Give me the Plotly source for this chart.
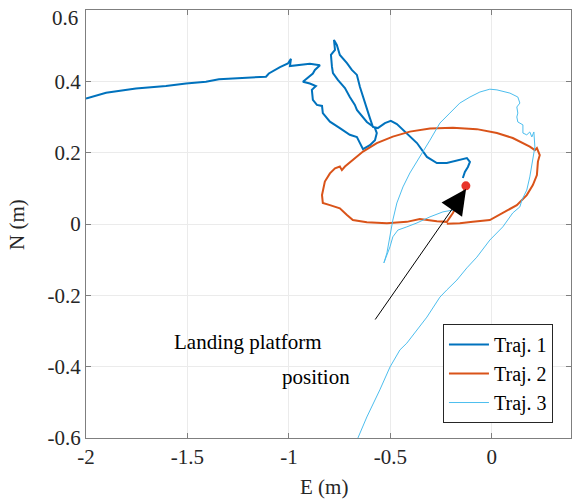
import plotly.graph_objects as go

# Trajectory 1 (E, N in metres)
traj1_e = [-2.000, -1.901, -1.754, -1.606, -1.507, -1.409, -1.345, -1.261, -1.113, -1.099,
           -1.044, -1.005, -0.990, -0.995, -0.946, -0.897, -0.847, -0.872, -0.882, -0.931,
           -0.897, -0.867, -0.887, -0.882, -0.862, -0.837, -0.833, -0.798, -0.749, -0.700,
           -0.665, -0.650, -0.635, -0.601, -0.576, -0.567, -0.576, -0.616, -0.665, -0.675,
           -0.700, -0.724, -0.759, -0.783, -0.788, -0.793, -0.773, -0.778, -0.764, -0.749,
           -0.714, -0.690, -0.665, -0.650, -0.635, -0.616, -0.601, -0.586, -0.562, -0.527,
           -0.498, -0.468, -0.419, -0.369, -0.320, -0.271, -0.222, -0.172, -0.123, -0.108,
           -0.118, -0.133, -0.143]
traj1_n = [0.352, 0.368, 0.380, 0.387, 0.394, 0.399, 0.406, 0.408, 0.413, 0.422,
           0.440, 0.450, 0.463, 0.443, 0.446, 0.449, 0.445, 0.432, 0.422, 0.399,
           0.394, 0.387, 0.376, 0.348, 0.334, 0.331, 0.311, 0.287, 0.269, 0.250,
           0.244, 0.227, 0.210, 0.221, 0.235, 0.255, 0.269, 0.286, 0.320, 0.334,
           0.356, 0.381, 0.404, 0.423, 0.441, 0.474, 0.488, 0.516, 0.502, 0.474,
           0.451, 0.432, 0.418, 0.384, 0.356, 0.325, 0.297, 0.272, 0.269, 0.283,
           0.289, 0.280, 0.255, 0.227, 0.188, 0.171, 0.171, 0.179, 0.185, 0.174,
           0.160, 0.146, 0.129]

# Trajectory 2
traj2_e = [-0.128, -0.158, -0.192, -0.222, -0.271, -0.355, -0.419, -0.517, -0.616, -0.685,
           -0.714, -0.749, -0.798, -0.833, -0.837, -0.823, -0.798, -0.773, -0.749, -0.739,
           -0.724, -0.685, -0.635, -0.567, -0.488, -0.404, -0.305, -0.192, -0.074, 0.025,
           0.103, 0.187, 0.212, 0.222, 0.236, 0.227, 0.222, 0.202, 0.172, 0.123,
           0.054, -0.010, -0.094, -0.158, -0.222]
traj2_n = [0.107, 0.067, 0.031, 0.006, 0.008, 0.014, 0.006, 0.002, 0.005, 0.011,
           0.025, 0.044, 0.053, 0.059, 0.081, 0.119, 0.142, 0.156, 0.161, 0.151,
           0.161, 0.179, 0.203, 0.227, 0.245, 0.259, 0.268, 0.270, 0.266, 0.255,
           0.241, 0.217, 0.207, 0.213, 0.193, 0.175, 0.137, 0.109, 0.081, 0.053,
           0.031, 0.011, 0.006, 0.002, 0.001]

# Trajectory 3
traj3_e = [-0.660, -0.616, -0.552, -0.502, -0.453, -0.419, -0.320, -0.256, -0.222, -0.172,
           -0.123, -0.074, -0.010, 0.054, 0.103, 0.138, 0.148, 0.172, 0.187, 0.202,
           0.212, 0.207, 0.197, 0.187, 0.172, 0.153, 0.153, 0.128, 0.123, 0.128,
           0.123, 0.138, 0.128, 0.089, 0.025, -0.010, -0.059, -0.108, -0.158, -0.207,
           -0.256, -0.305, -0.355, -0.404, -0.438, -0.468, -0.488, -0.502, -0.517, -0.532,
           -0.502, -0.488, -0.463, -0.419, -0.369, -0.305, -0.241, -0.192, -0.167, -0.148,
           -0.133]
traj3_n = [-0.600, -0.541, -0.465, -0.401, -0.353, -0.334, -0.261, -0.205, -0.185, -0.157,
           -0.123, -0.093, -0.045, -0.008, 0.031, 0.048, 0.067, 0.095, 0.132, 0.179,
           0.216, 0.258, 0.244, 0.258, 0.250, 0.255, 0.278, 0.286, 0.300, 0.311,
           0.328, 0.339, 0.356, 0.367, 0.376, 0.378, 0.370, 0.356, 0.339, 0.311,
           0.283, 0.235, 0.188, 0.143, 0.104, 0.059, 0.011, -0.036, -0.081, -0.109,
           -0.064, -0.036, -0.017, -0.008, 0.003, 0.020, 0.034, 0.039, 0.048, 0.076,
           0.101]

platform_e = [-0.128]
platform_n = [0.107]

arrow_tail = (-0.580, -0.272)
arrow_tip = (-0.127, 0.098)

x_ticks = [-2, -1.5, -1, -0.5, 0]
x_labels = ["-2", "-1.5", "-1", "-0.5", "0"]
y_ticks = [-0.6, -0.4, -0.2, 0, 0.2, 0.4, 0.6]
y_labels = ["-0.6", "-0.4", "-0.2", "0", "0.2", "0.4", ""]
y_top_label = "0.6"

FONT = "Liberation Serif, Times New Roman, serif"
FS = 21

fig = go.Figure()
fig.add_trace(go.Scatter(x=traj1_e, y=traj1_n, mode="lines", name="Traj. 1",
                         line=dict(color="#0072BD", width=2)))
fig.add_trace(go.Scatter(x=traj2_e, y=traj2_n, mode="lines", name="Traj. 2",
                         line=dict(color="#D95319", width=2)))
fig.add_trace(go.Scatter(x=traj3_e, y=traj3_n, mode="lines", name="Traj. 3",
                         line=dict(color="#4DBEEE", width=1)))
fig.add_trace(go.Scatter(x=platform_e, y=platform_n, mode="markers", showlegend=False,
                         marker=dict(color="#E8352B", size=9)))

fig.add_annotation(x=arrow_tip[0], y=arrow_tip[1], ax=arrow_tail[0], ay=arrow_tail[1],
                   xref="x", yref="y", axref="x", ayref="y", text="", showarrow=True,
                   arrowhead=2, arrowsize=5, arrowwidth=1, arrowcolor="#000000")
fig.add_annotation(x=-1.576, y=-0.331, xref="x", yref="y", text="Landing platform",
                   showarrow=False, xanchor="left", font=dict(family=FONT, size=FS, color="#000"))
fig.add_annotation(x=-1.044, y=-0.429, xref="x", yref="y", text="position",
                   showarrow=False, xanchor="left", font=dict(family=FONT, size=FS, color="#000"))

# top y tick label, kept inside the page
fig.add_annotation(x=0, y=1, xref="paper", yref="paper", text=y_top_label,
                   showarrow=False, xanchor="right", yanchor="top", xshift=-6, yshift=6,
                   font=dict(family=FONT, size=FS, color="#262626"))

# axis titles
fig.add_annotation(x=0.49, y=-0.114, xref="paper", yref="paper", text="E (m)",
                   xanchor="center", yanchor="middle",
                   showarrow=False, font=dict(family=FONT, size=FS, color="#262626"))
fig.add_annotation(x=-0.142, y=0.498, xref="paper", yref="paper", text="N (m)", textangle=-90,
                   xanchor="center", yanchor="middle",
                   showarrow=False, font=dict(family=FONT, size=FS, color="#262626"))

axis_common = dict(showgrid=True, gridcolor="#EBEBEB", gridwidth=1, zeroline=False,
                   showline=True, linecolor="#7F7F7F", linewidth=1, mirror="ticks",
                   ticks="inside", ticklen=5, tickcolor="#7F7F7F", automargin=False,
                   ticklabeloverflow="allow",
                   tickfont=dict(family=FONT, size=FS, color="#262626"))

fig.update_layout(
    width=573, height=502,
    margin=dict(l=86, r=2, t=10, b=64),
    paper_bgcolor="white", plot_bgcolor="white",
    font=dict(family=FONT, size=FS, color="#262626"),
    xaxis=dict(range=[-2, 0.39], tickvals=x_ticks, ticktext=x_labels, **axis_common),
    yaxis=dict(range=[-0.6, 0.6], tickvals=y_ticks, ticktext=y_labels, **axis_common),
    legend=dict(x=0.736, y=0.035, xanchor="left", yanchor="bottom",
                bgcolor="white", bordercolor="#262626", borderwidth=1,
                font=dict(family=FONT, size=20, color="#000"),
                tracegroupgap=0, itemwidth=40),
    showlegend=True,
)

fig.write_html("out.html", config={"displayModeBar": False},
               post_script="document.body.style.margin='0px';")
